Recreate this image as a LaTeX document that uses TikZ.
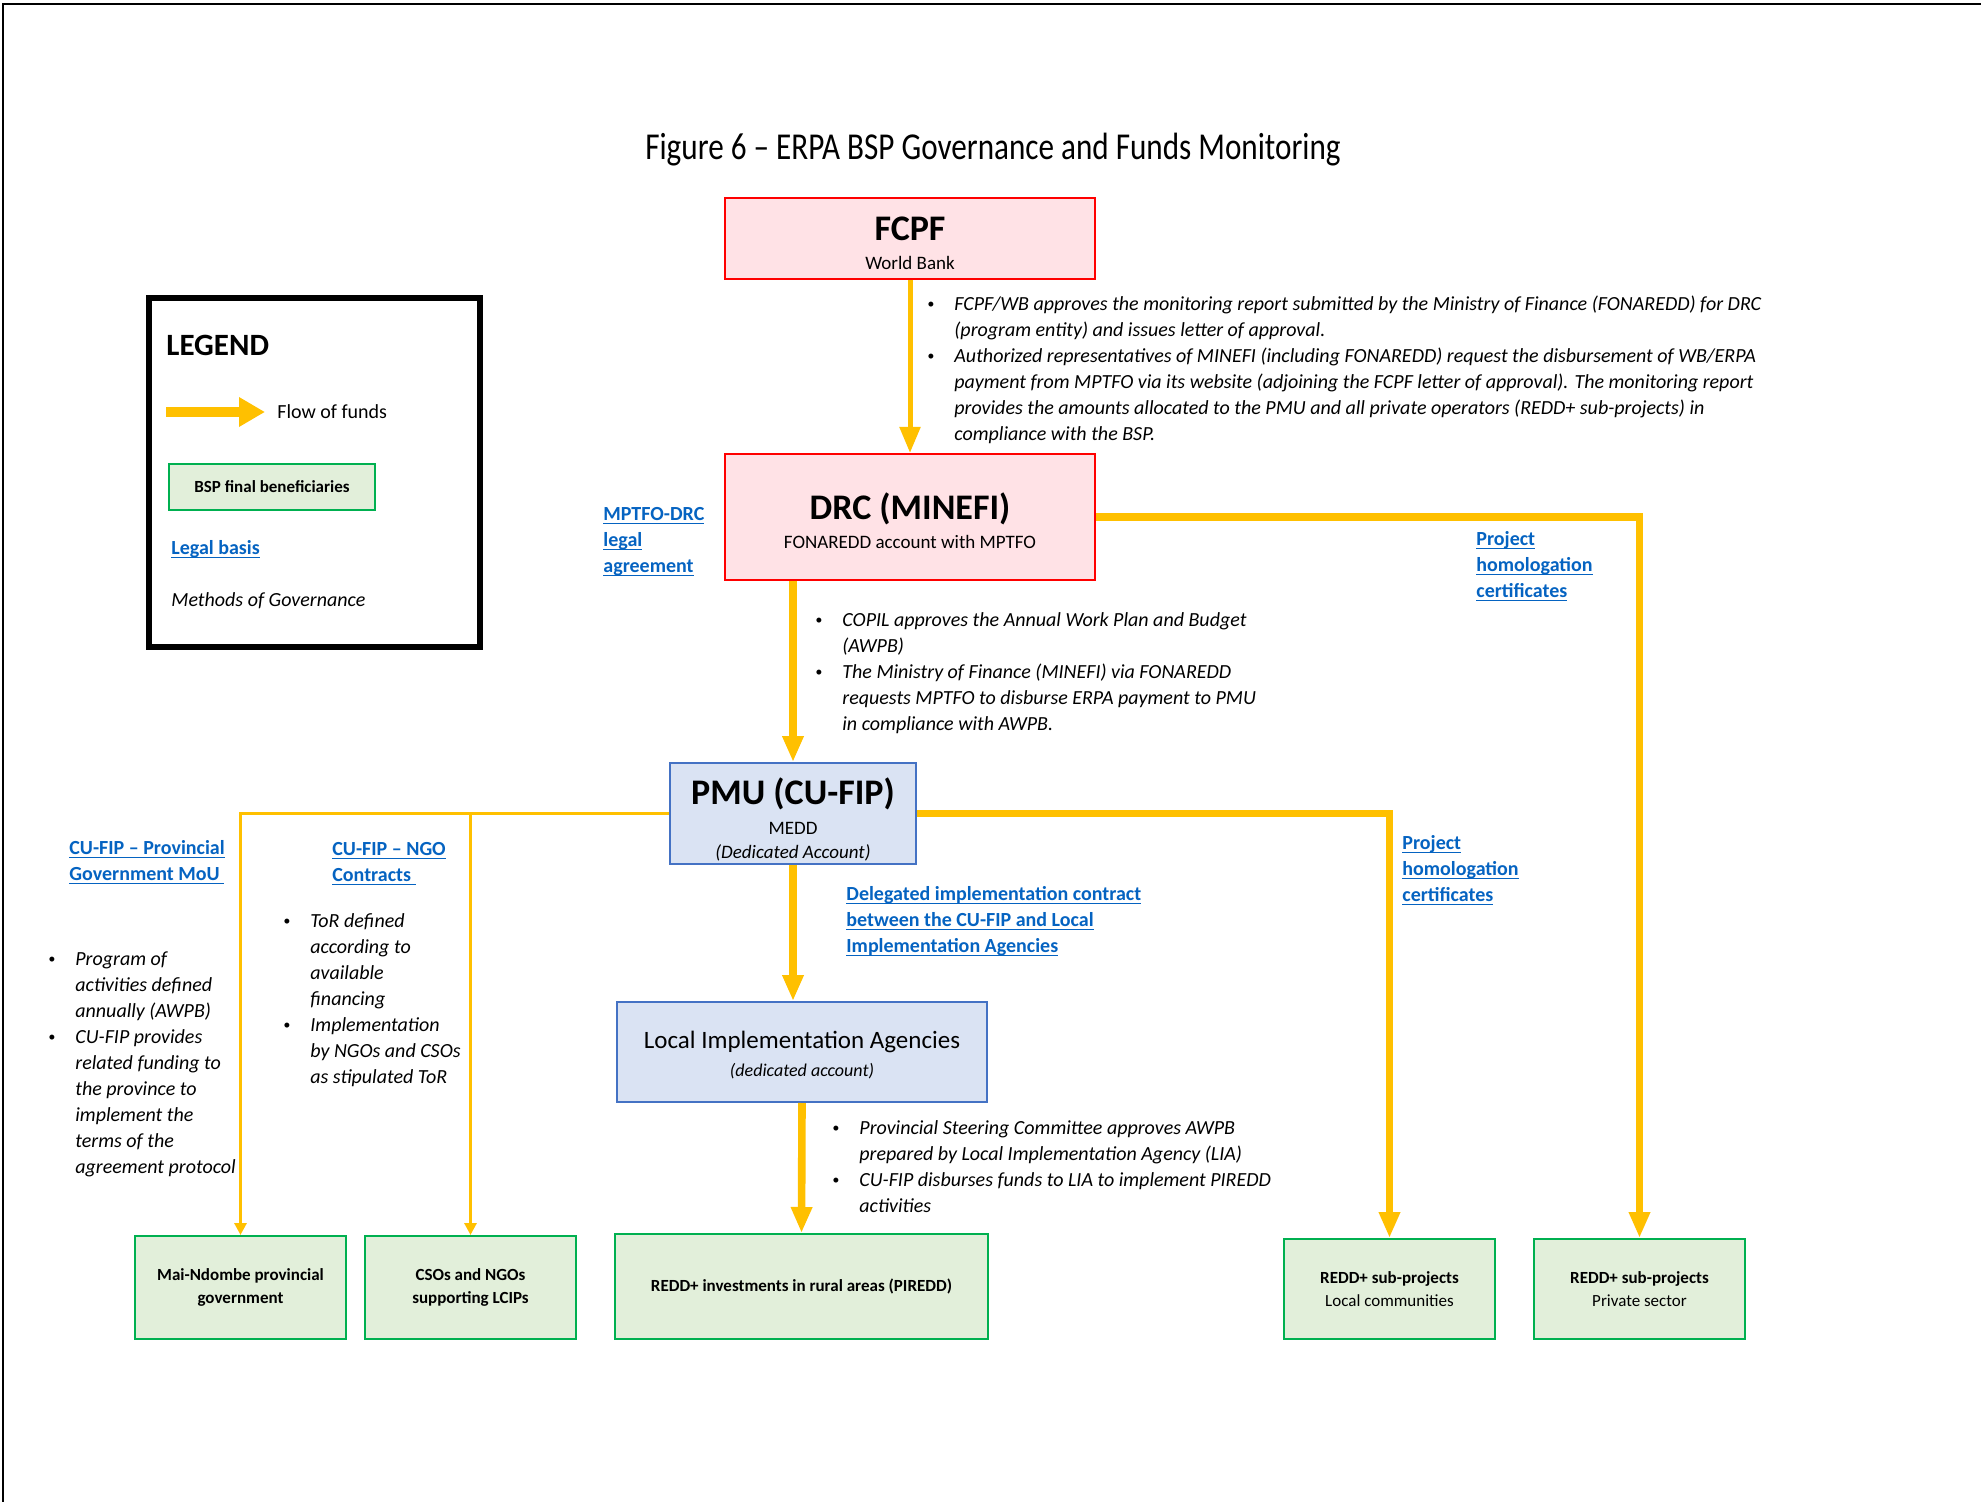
\documentclass[tikz,border=0pt]{standalone}
\usepackage{fontspec}
\usepackage{graphicx}
\setmainfont{Carlito}
\usetikzlibrary{arrows.meta}
\definecolor{gold}{RGB}{255,192,0}
\definecolor{linkblue}{RGB}{5,99,193}
\definecolor{pinkfill}{RGB}{255,226,230}
\definecolor{bluefill}{RGB}{218,227,243}
\definecolor{blueedge}{RGB}{68,114,196}
\definecolor{greenfill}{RGB}{226,239,218}
\definecolor{greenedge}{RGB}{0,176,80}
\newcommand\lnk[1]{\strut\underline{\smash{#1}}}
\newcommand\bulletmark{\raisebox{0.2ex}{\scriptsize\textbullet}}

\begin{document}
\begin{tikzpicture}[x=0.5pt, y=-0.5pt, every node/.style={inner sep=0pt},
  redbox/.style={draw=red, fill=pinkfill, line width=1pt, align=center},
  bluebox/.style={draw=blueedge, fill=bluefill, line width=1pt, align=center},
  greenbox/.style={draw=greenedge, fill=greenfill, line width=1pt, align=center, font=\fontsize{8.5}{11.5}\selectfont\bfseries},
  funds/.style={gold, line width=3.8pt, -{Triangle[width=10pt,length=13pt]}},
  thinfunds/.style={gold, line width=1.5pt, -{Triangle[width=6pt,length=6pt]}},
  link/.style={anchor=north west, align=left, text=linkblue, font=\fontsize{10}{13}\selectfont\bfseries},
  note/.style={anchor=north west, font=\fontsize{10}{13}\selectfont\itshape}]
\useasboundingbox (0,0) rectangle (1981,1502);
\draw[line width=1pt] (3,1502) -- (3,4) -- (1981,4);
\node (title) at (993,150) {\scalebox{0.82}[1]{\fontsize{19}{22}\selectfont Figure 6 – ERPA BSP Governance and Funds Monitoring}};
\node[redbox, minimum width=185pt, minimum height=40.5pt] (fcpf) at (910,238.5) {\rule{0pt}{16.5pt}{\fontsize{18}{20}\selectfont\bfseries FCPF}\\[2.3pt]{\fontsize{9.5}{11}\selectfont World Bank}};
\node[redbox, minimum width=185pt, minimum height=63pt] (drc) at (910,517) {\rule{0pt}{17pt}{\fontsize{18}{20}\selectfont\bfseries DRC (MINEFI)}\\[2.9pt]{\fontsize{9.5}{11}\selectfont FONAREDD account with MPTFO}};
\node[bluebox, minimum width=123pt, minimum height=50.5pt] (pmu) at (793,813.5) {\rule{0pt}{19pt}{\fontsize{18}{20}\selectfont\bfseries PMU (CU-FIP)}\\[2.9pt]{\fontsize{9.5}{12}\selectfont MEDD}\\{\fontsize{9.5}{12}\selectfont\itshape (Dedicated Account)}};
\node[bluebox, minimum width=185pt, minimum height=50pt] (lia) at (802,1052) {\rule{0pt}{12pt}{\fontsize{12.5}{15}\selectfont Local Implementation Agencies}\\[2pt]{\fontsize{9}{11}\selectfont\itshape (dedicated account)}};
\node[greenbox, minimum width=105.5pt, minimum height=51.5pt] (mai) at (240.5,1287.5) {Mai-Ndombe provincial\\government};
\node[greenbox, minimum width=105.5pt, minimum height=51.5pt] (cso) at (470.5,1287.5) {CSOs and NGOs\\supporting LCIPs};
\node[greenbox, minimum width=186.5pt, minimum height=52.5pt] (pir) at (801.5,1286.5) {REDD+ investments in rural areas (PIREDD)};
\node[greenbox, minimum width=105.5pt, minimum height=50pt] (loc) at (1389.5,1289) {REDD+ sub-projects\\{\mdseries Local communities}};
\node[greenbox, minimum width=105.5pt, minimum height=50pt] (prv) at (1639.5,1289) {REDD+ sub-projects\\{\mdseries Private sector}};
\draw[funds, line width=2.5pt] (fcpf.south) -- (drc.north);
\draw[funds] (drc.east) -| (prv.north);
\draw[funds] (drc.south -| pmu.north) -- (pmu.north);
\draw[funds] (pmu.east) -| (loc.north);
\draw[funds] (pmu.south) -- (pmu.south |- lia.north);
\draw[funds] (lia.south) -- (pir.north);
\draw[thinfunds] (pmu.west) -| (mai.north);
\draw[thinfunds] (pmu.west -| cso.north) -- (cso.north);
\node[note] (fcpfnote) at (927,292) {\begin{tabular}{@{}p{13.5pt}@{}l@{}}
\bulletmark & FCPF/WB approves the monitoring report submitted by the Ministry of Finance (FONAREDD) for DRC\\
 & (program entity) and issues letter of approval.\\
\bulletmark & Authorized representatives of MINEFI (including FONAREDD) request the disbursement of WB/ERPA\\
 & payment from MPTFO via its website (adjoining the FCPF letter of approval). The monitoring report\\
 & provides the amounts allocated to the PMU and all private operators (REDD+ sub-projects) in\\
 & compliance with the BSP.
\end{tabular}};
\node[note] (drcnote) at (815,608) {\begin{tabular}{@{}p{13.5pt}@{}l@{}}
\bulletmark & COPIL approves the Annual Work Plan and Budget\\
 & (AWPB)\\
\bulletmark & The Ministry of Finance (MINEFI) via FONAREDD\\
 & requests MPTFO to disburse ERPA payment to PMU\\
 & in compliance with AWPB.
\end{tabular}};
\node[note] (lianote) at (832,1116) {\begin{tabular}{@{}p{13.5pt}@{}l@{}}
\bulletmark & Provincial Steering Committee approves AWPB\\
 & prepared by Local Implementation Agency (LIA)\\
\bulletmark & CU-FIP disburses funds to LIA to implement PIREDD\\
 & activities
\end{tabular}};
\node[note] (provnote) at (48,947) {\begin{tabular}{@{}p{13.5pt}@{}l@{}}
\bulletmark & Program of\\
 & activities defined\\
 & annually (AWPB)\\
\bulletmark & CU-FIP provides\\
 & related funding to\\
 & the province to\\
 & implement the\\
 & terms of the\\
 & agreement protocol
\end{tabular}};
\node[note] (ngonote) at (283,909) {\begin{tabular}{@{}p{13.5pt}@{}l@{}}
\bulletmark & ToR defined\\
 & according to\\
 & available\\
 & financing\\
\bulletmark & Implementation\\
 & by NGOs and CSOs\\
 & as stipulated ToR
\end{tabular}};
\node[link] (mptfo) at (603,502) {\lnk{MPTFO-DRC}\\\lnk{legal}\\\lnk{agreement}};
\node[link] (homol1) at (1476,527) {\lnk{Project}\\\lnk{homologation}\\\lnk{certificates}};
\node[link] (homol2) at (1402,831) {\lnk{Project}\\\lnk{homologation}\\\lnk{certificates}};
\node[link] (provlink) at (69,836) {\lnk{CU-FIP – Provincial}\\\lnk{Government MoU }};
\node[link] (ngolink) at (332,837) {\lnk{CU-FIP – NGO}\\\lnk{Contracts }};
\node[link] (delegated) at (846,882) {\lnk{Delegated implementation contract}\\\lnk{between the CU-FIP and Local}\\\lnk{Implementation Agencies}};
\node[draw, line width=3pt, minimum width=165.5pt, minimum height=174.5pt] (legend) at (314.5,472.5) {};
\node[anchor=west, font=\fontsize{15.5}{18}\selectfont\bfseries] (legtitle) at (166,345) {LEGEND};
\coordinate (la) at (166,412);
\coordinate (lb) at (265,412);
\draw[gold, line width=5pt, -{Triangle[width=14pt,length=13pt]}] (la) -- (lb);
\node[anchor=west, font=\fontsize{10}{12}\selectfont] (legflow) at (277,412) {Flow of funds};
\node[greenbox, minimum width=103pt, minimum height=23pt] (legbsp) at (272,487) {BSP final beneficiaries};
\node[anchor=west, text=linkblue, font=\fontsize{10}{12}\selectfont\bfseries] (leglegal) at (171,550) {\lnk{Legal basis}};
\node[anchor=west, font=\fontsize{10}{12}\selectfont\itshape] (leggov) at (171,601) {Methods of Governance};
\end{tikzpicture}
\end{document}
